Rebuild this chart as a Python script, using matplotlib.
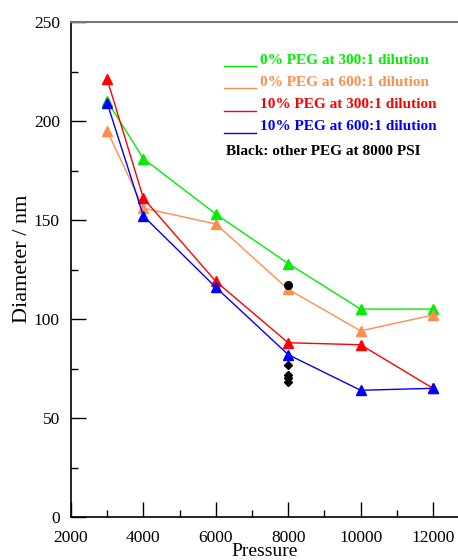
import matplotlib
matplotlib.use("Agg")
import matplotlib.pyplot as plt
from matplotlib.lines import Line2D
from matplotlib.ticker import MultipleLocator

pressure = [3000, 4000, 6000, 8000, 10000, 12000]
peg0_300 = [210, 181, 153, 128, 105, 105]
peg0_600 = [195, 156, 148, 115, 94, 102]
peg10_300 = [221, 161, 119, 88, 87, 65]
peg10_600 = [209, 152, 116, 82, 64, 65]
black_circle_x = [8000]
black_circle_y = [117]
black_diamond_x = [8000, 8000, 8000, 8000]
black_diamond_y = [77, 71.5, 70, 68]

series_labels = ["0% PEG at 300:1 dilution", "0% PEG at 600:1 dilution",
                 "10% PEG at 300:1 dilution", "10% PEG at 600:1 dilution"]
series_colors = ["#00ee00", "#ff8c50", "#ff0000", "#0000ff"]
black_note = "Black: other PEG at 8000 PSI"

plt.rcParams['font.family'] = ['Liberation Serif', 'DejaVu Serif']

fig = plt.figure(figsize=(4.58, 5.6), dpi=100)
ax = fig.add_axes([71/458, 43/560, 1 - 71/458, 495/560])

for ys, c in zip([peg0_300, peg0_600, peg10_300, peg10_600], series_colors):
    ax.plot(pressure, ys, color=c, lw=1.0, marker='^', ms=7, mec=c, mfc=c)

ax.plot(black_circle_x, black_circle_y, 'o', color='black', ms=5.5)
ax.plot(black_diamond_x, black_diamond_y, 'D', color='black', ms=4)

ax.set_xlim(2000, 12690)
ax.set_ylim(0, 250)
ax.xaxis.set_major_locator(MultipleLocator(2000))
ax.xaxis.set_minor_locator(MultipleLocator(1000))
ax.yaxis.set_major_locator(MultipleLocator(50))
ax.yaxis.set_minor_locator(MultipleLocator(25))
ax.tick_params(which='major', direction='in', length=11, width=1.0, labelsize=12.5, pad=8)
ax.tick_params(which='minor', direction='in', length=5, width=1.0)
ax.tick_params(axis='x', which='both', top=False)
ax.tick_params(axis='y', which='both', right=False)
ax.tick_params(axis='x', pad=9)

ax.spines['right'].set_visible(False)
ax.spines['top'].set_color('#777777')
ax.spines['top'].set_linewidth(1.5)
ax.spines['left'].set_linewidth(1.2)
ax.spines['bottom'].set_linewidth(1.2)

ax.set_xlabel("Pressure", fontsize=14, labelpad=-2)
ax.set_ylabel("Diameter / nm", fontsize=16)
ax.yaxis.set_label_coords(-0.10, 0.521)

# custom legend
rows_y = [60, 82, 105, 127]
for ry, lab, c in zip(rows_y, series_labels, series_colors):
    yf = 1 - (ry + 6) / 560
    fig.add_artist(Line2D([224/458, 256/458], [yf, yf], color=c, lw=1.0, transform=fig.transFigure))
    fig.text(260/458, 1 - ry/560, lab, color=c, fontsize=11, fontweight='bold',
             ha='left', va='center')
fig.text(226/458, 1 - 152/560, black_note, color='black', fontsize=11, fontweight='bold',
         ha='left', va='center')

fig.savefig("out.png", dpi=100)
